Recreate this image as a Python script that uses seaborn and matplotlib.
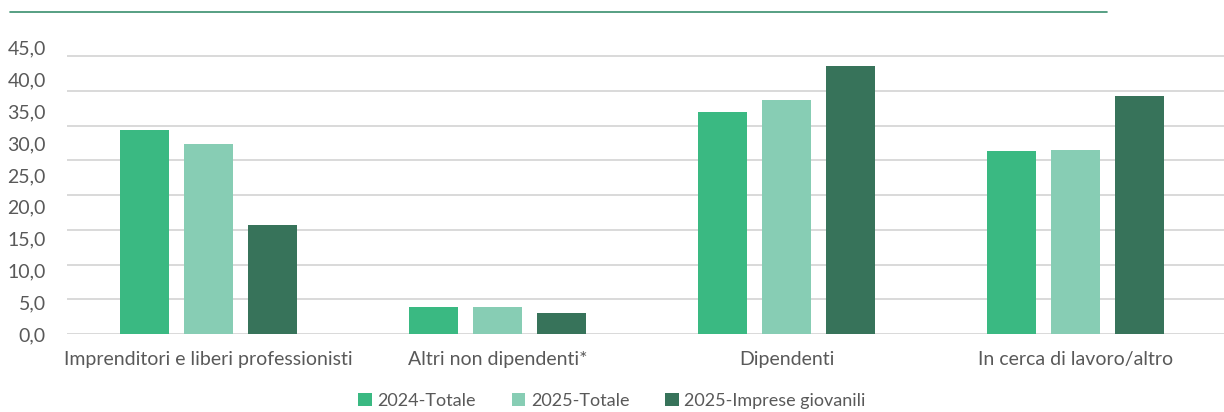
import matplotlib
matplotlib.use("Agg")
import matplotlib.pyplot as plt
import pandas as pd
import seaborn as sns
from matplotlib.lines import Line2D
from matplotlib.ticker import FuncFormatter, MultipleLocator

categorie = [
    "Imprenditori e liberi professionisti",
    "Altri non dipendenti*",
    "Dipendenti",
    "In cerca di lavoro/altro",
]
serie = ["2024-Totale", "2025-Totale", "2025-Imprese giovanili"]
totale_2024 = [32.1, 4.2, 34.9, 28.8]
totale_2025 = [29.9, 4.2, 36.8, 29.0]
giovanili_2025 = [17.1, 3.3, 42.1, 37.5]
colori = ["#3ab982", "#87cdb4", "#37735a"]

df = pd.DataFrame({
    "categoria": categorie * 3,
    "serie": [s for s in serie for _ in categorie],
    "valore": totale_2024 + totale_2025 + giovanili_2025,
})

sns.set_theme(style="white")
plt.rcParams["font.family"] = ["Lato", "DejaVu Sans"]
TEXT = "#595959"

W, H = 1224, 412
fig = plt.figure(figsize=(W / 100, H / 100), dpi=100)

# pixel scale
px_unit = 6.36      # bars / tick labels
px_grid = 6.94      # gridlines sit on a slightly different spacing
y0 = 334
ytop = 46

# gridline layer (behind)
ax_grid = fig.add_axes([67 / W, (H - y0) / H, (W - 67) / W, ytop * px_unit / H])
ax_grid.set_ylim(0, ytop * px_unit / px_grid)
ax_grid.set_xlim(0, 1)
ax_grid.yaxis.set_major_locator(MultipleLocator(5))
ax_grid.grid(axis="y", color="#d9d9d9", linewidth=1.4)
ax_grid.set_xticks([])
ax_grid.tick_params(axis="y", length=0, labelleft=False)
for s in ax_grid.spines.values():
    s.set_visible(False)

# bars
ax = fig.add_axes([64 / W, (H - y0) / H, 1156 / W, ytop * px_unit / H], zorder=2)
ax.patch.set_alpha(0)
sns.barplot(
    data=df, x="categoria", y="valore", hue="serie", order=categorie,
    hue_order=serie, palette=colori, width=0.664, gap=0.22,
    saturation=1, linewidth=0, ax=ax,
)
ax.set_xlim(-0.5, len(categorie) - 0.5)
ax.set_ylim(0, ytop)
ax.yaxis.set_major_locator(MultipleLocator(5))
ax.yaxis.set_major_formatter(FuncFormatter(lambda v, _: f"{v:.1f}".replace(".", ",")))
ax.set_xlabel("")
ax.set_ylabel("")
ax.tick_params(axis="y", length=0, pad=13, labelsize=14, labelcolor=TEXT)
ax.tick_params(axis="x", length=0, pad=12, labelsize=14, labelcolor=TEXT)
for s in ax.spines.values():
    s.set_visible(False)

handles, labels = ax.get_legend_handles_labels()
ax.legend_.remove()
fig.legend(
    handles, labels, loc="center", bbox_to_anchor=(0.5, 1 - 401 / H),
    ncol=3, frameon=False, fontsize=13, labelcolor=TEXT,
    handlelength=0.75, handleheight=0.75, handletextpad=0.3,
    columnspacing=2.0,
)

# thin green rule at the top
fig.add_artist(Line2D([10 / W, 1107 / W], [1 - 12.3 / H] * 2,
                      color="#3a8f6e", linewidth=1.2))

fig.savefig("out.png", dpi=100)
